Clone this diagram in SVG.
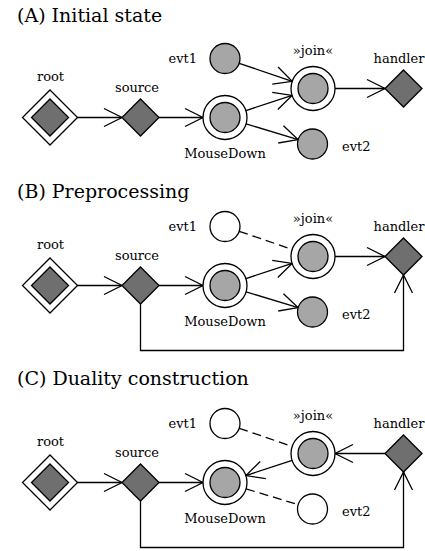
<svg xmlns="http://www.w3.org/2000/svg" width="425" height="551" viewBox="0 0 425 551">
<style>
text{font-family:"DejaVu Serif","Liberation Serif",serif;fill:#000}
.title{font-size:19px}
.lbl{font-size:13px}
.dia{fill:#6f6f6f;stroke:#000;stroke-width:1.3}
.dout{fill:#fff;stroke:#000;stroke-width:1.3}
.cir{fill:#a6a6a6;stroke:#000;stroke-width:1.3}
.wcir{fill:#fff;stroke:#000;stroke-width:1.3}
.e{fill:none;stroke:#000;stroke-width:1.3;marker-end:url(#arr)}
.d{fill:none;stroke:#000;stroke-width:1.3;stroke-dasharray:9 5}
</style>
<defs>
<marker id="arr" markerUnits="userSpaceOnUse" viewBox="-20 -10 22 20" refX="0" refY="0" markerWidth="22" markerHeight="20" orient="auto" overflow="visible">
<path d="M-18,-9 L0,0 L-18,9" fill="none" stroke="#000" stroke-width="1.3"/>
</marker>
</defs>
<rect width="425" height="551" fill="#fff"/>

<!-- Panel A -->
<g id="panelA">
<text class="title" x="17" y="22">(A) Initial state</text>
<g id="A-connectors">
<path class="e" d="M77.5,117.5 L122,117.5"/>
<path class="e" d="M159,117.5 L203,117.5"/>
<path class="e" d="M239.2,63.3 L292.2,81.4"/>
<path class="e" d="M245.9,110.6 L292.1,95.4"/>
<path class="e" d="M246.1,123.9 L298.1,139.6"/>
<path class="e" d="M335,88.5 L385,88.5"/>
</g>
<g id="A-root"><path class="dout" d="M50,90 L77.5,117.5 L50,145 L22.5,117.5Z"/><path class="dia" d="M50,99 L68.5,117.5 L50,136 L31.5,117.5Z"/><text class="lbl" x="50.5" y="81" text-anchor="middle">root</text></g>
<g id="A-source"><path class="dia" d="M140.5,99 L159,117.5 L140.5,136 L122,117.5Z"/><text class="lbl" x="137" y="92" text-anchor="middle">source</text></g>
<g id="A-mousedown"><circle class="wcir" cx="225" cy="117.5" r="22"/><circle class="cir" cx="225" cy="117.5" r="15"/><text class="lbl" x="225" y="158" text-anchor="middle">MouseDown</text></g>
<g id="A-evt1"><circle class="cir" cx="225" cy="58.5" r="15"/><text class="lbl" x="197" y="63" text-anchor="end">evt1</text></g>
<g id="A-join"><circle class="wcir" cx="313" cy="88.5" r="22"/><circle class="cir" cx="313" cy="88.5" r="15"/><text class="lbl" x="313" y="55" text-anchor="middle">»join«</text></g>
<g id="A-evt2"><circle class="cir" cx="312.5" cy="144" r="15"/><text class="lbl" x="342" y="151">evt2</text></g>
<g id="A-handler"><path class="dia" d="M403.5,70 L422,88.5 L403.5,107 L385,88.5Z"/><text class="lbl" x="399" y="63" text-anchor="middle">handler</text></g>
</g>

<!-- Panel B -->
<text class="title" x="17" y="198">(B) Preprocessing</text>
<g id="panelB" transform="translate(0,168)">
<g id="B-connectors">
<path class="e" d="M77.5,117.5 L122,117.5"/>
<path class="e" d="M159,117.5 L203,117.5"/>
<path class="d" d="M239.2,63.3 L292.2,81.4"/>
<path class="e" d="M245.9,110.6 L292.1,95.4"/>
<path class="e" d="M246.1,123.9 L298.1,139.6"/>
<path class="e" d="M335,88.5 L385,88.5"/>
<path class="e" d="M140.5,136 V182.5 H403.5 V107"/>
</g>
<g id="B-root"><path class="dout" d="M50,90 L77.5,117.5 L50,145 L22.5,117.5Z"/><path class="dia" d="M50,99 L68.5,117.5 L50,136 L31.5,117.5Z"/><text class="lbl" x="50.5" y="81" text-anchor="middle">root</text></g>
<g id="B-source"><path class="dia" d="M140.5,99 L159,117.5 L140.5,136 L122,117.5Z"/><text class="lbl" x="137" y="92" text-anchor="middle">source</text></g>
<g id="B-mousedown"><circle class="wcir" cx="225" cy="117.5" r="22"/><circle class="cir" cx="225" cy="117.5" r="15"/><text class="lbl" x="225" y="158" text-anchor="middle">MouseDown</text></g>
<g id="B-evt1"><circle class="wcir" cx="225" cy="58.5" r="15"/><text class="lbl" x="197" y="63" text-anchor="end">evt1</text></g>
<g id="B-join"><circle class="wcir" cx="313" cy="88.5" r="22"/><circle class="cir" cx="313" cy="88.5" r="15"/><text class="lbl" x="313" y="55" text-anchor="middle">»join«</text></g>
<g id="B-evt2"><circle class="cir" cx="312.5" cy="144" r="15"/><text class="lbl" x="342" y="151">evt2</text></g>
<g id="B-handler"><path class="dia" d="M403.5,70 L422,88.5 L403.5,107 L385,88.5Z"/><text class="lbl" x="399" y="63" text-anchor="middle">handler</text></g>
</g>

<!-- Panel C -->
<text class="title" x="17" y="385">(C) Duality construction</text>
<g id="panelC" transform="translate(0,365)">
<g id="C-connectors">
<path class="e" d="M77.5,117.5 L122,117.5"/>
<path class="e" d="M159,117.5 L203,117.5"/>
<path class="d" d="M239.2,63.3 L292.2,81.4"/>
<path class="e" d="M292.1,95.4 L245.9,110.6"/>
<path class="d" d="M246.1,123.9 L298.1,139.6"/>
<path class="e" d="M385,88.5 L335,88.5"/>
<path class="e" d="M140.5,136 V182.5 H403.5 V107"/>
</g>
<g id="C-root"><path class="dout" d="M50,90 L77.5,117.5 L50,145 L22.5,117.5Z"/><path class="dia" d="M50,99 L68.5,117.5 L50,136 L31.5,117.5Z"/><text class="lbl" x="50.5" y="81" text-anchor="middle">root</text></g>
<g id="C-source"><path class="dia" d="M140.5,99 L159,117.5 L140.5,136 L122,117.5Z"/><text class="lbl" x="137" y="92" text-anchor="middle">source</text></g>
<g id="C-mousedown"><circle class="wcir" cx="225" cy="117.5" r="22"/><circle class="cir" cx="225" cy="117.5" r="15"/><text class="lbl" x="225" y="158" text-anchor="middle">MouseDown</text></g>
<g id="C-evt1"><circle class="wcir" cx="225" cy="58.5" r="15"/><text class="lbl" x="197" y="63" text-anchor="end">evt1</text></g>
<g id="C-join"><circle class="wcir" cx="313" cy="88.5" r="22"/><circle class="cir" cx="313" cy="88.5" r="15"/><text class="lbl" x="313" y="55" text-anchor="middle">»join«</text></g>
<g id="C-evt2"><circle class="wcir" cx="312.5" cy="144" r="15"/><text class="lbl" x="342" y="151">evt2</text></g>
<g id="C-handler"><path class="dia" d="M403.5,70 L422,88.5 L403.5,107 L385,88.5Z"/><text class="lbl" x="399" y="63" text-anchor="middle">handler</text></g>
</g>
</svg>
